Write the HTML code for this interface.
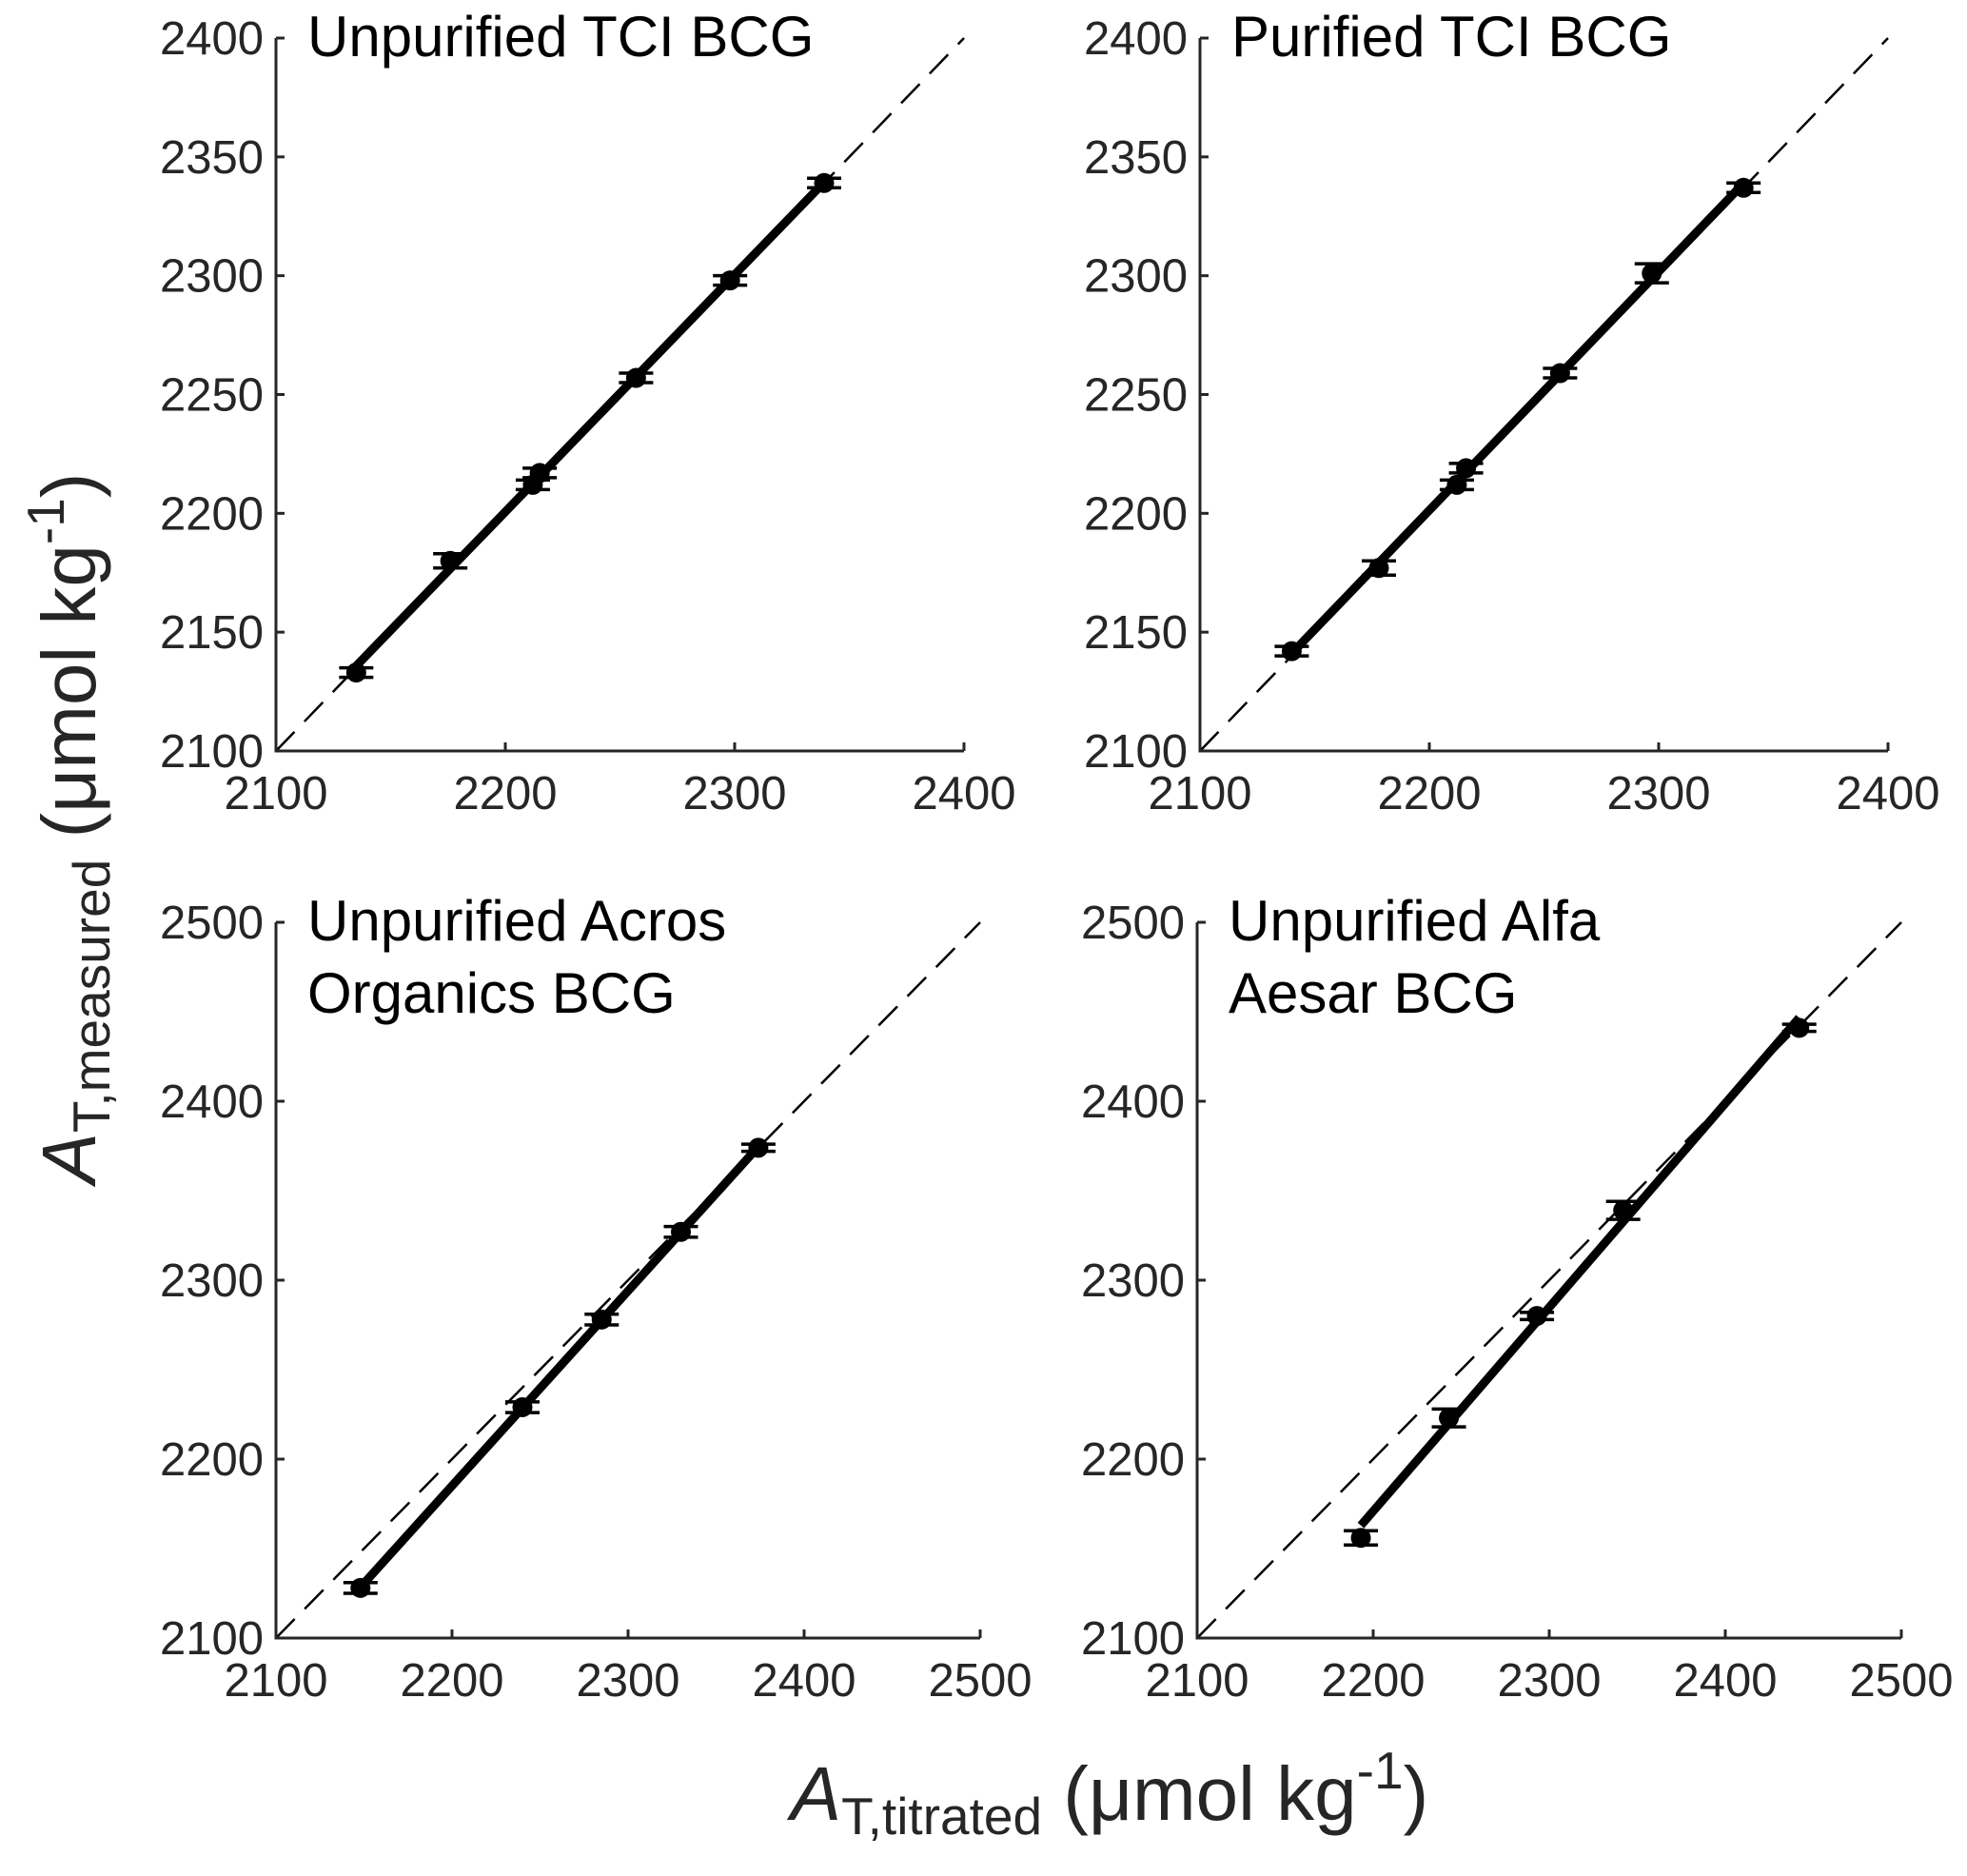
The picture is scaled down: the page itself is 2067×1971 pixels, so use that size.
<!DOCTYPE html>
<html><head><meta charset="utf-8">
<style>
html,body{margin:0;padding:0;background:#fff;}
svg{display:block;font-family:"Liberation Sans",Arial,sans-serif;}
</style></head>
<body>
<svg id="fig" width="2067" height="1971" viewBox="0 0 2067 1971" xmlns="http://www.w3.org/2000/svg">
<g transform="translate(100,870) rotate(-90)">
<text text-anchor="middle" font-size="80" fill="#262626"><tspan font-style="italic">A</tspan><tspan font-size="55" dy="15">T,measured</tspan><tspan dy="-15"> (μmol kg</tspan><tspan font-size="55" dy="-33">-1</tspan><tspan dy="33">)</tspan></text>
</g>
<g>
<text x="1166" y="1912" text-anchor="middle" font-size="80" fill="#262626"><tspan font-style="italic">A</tspan><tspan font-size="55" dy="15">T,titrated</tspan><tspan dy="-15"> (μmol kg</tspan><tspan font-size="55" dy="-33">-1</tspan><tspan dy="33">)</tspan></text>
</g>
</svg>
<script>
// Panel 1: Unpurified TCI BCG
const p1X = [2135, 2176, 2212, 2215, 2257, 2298, 2339];
const p1Y = [2133, 2180, 2212, 2217, 2257, 2298, 2339];
const p1E = [2, 3, 2, 2, 2, 2, 2];
// Panel 2: Purified TCI BCG
const p2X = [2140, 2178, 2212, 2216, 2257, 2297, 2337];
const p2Y = [2142, 2177, 2212, 2219, 2259, 2301, 2337];
const p2E = [2, 3, 2, 2, 2, 4, 2];
// Panel 3: Unpurified Acros Organics BCG
const p3X = [2148, 2240, 2285, 2330, 2374];
const p3Y = [2128, 2229, 2278, 2327, 2374];
const p3E = [3, 3, 3, 3, 2];
// Panel 4: Unpurified Alfa Aesar BCG
const p4X = [2193, 2243, 2293, 2342, 2442];
const p4Y = [2156, 2223, 2280, 2339, 2441];
const p4E = [4, 5, 2, 5, 2];
// Ticks
const ticksTop = [2100, 2200, 2300, 2400];
const ticksTopY = [2100, 2150, 2200, 2250, 2300, 2350, 2400];
const ticksBot = [2100, 2200, 2300, 2400, 2500];
const ticksBotY = [2100, 2200, 2300, 2400, 2500];

const NS = 'http://www.w3.org/2000/svg';
const svg = document.getElementById('fig');
function mk(tag, attrs, parent) {
  const e = document.createElementNS(NS, tag);
  for (const k in attrs) e.setAttribute(k, attrs[k]);
  parent.appendChild(e);
  return e;
}
const panels = [
  {name:'unpurified-tci', L:290, R:1013, T:40, B:789, min:2100, max:2400, xt:ticksTop, yt:ticksTopY, X:p1X, Y:p1Y, E:p1E, title:['Unpurified TCI BCG']},
  {name:'purified-tci', L:1261, R:1984, T:40, B:789, min:2100, max:2400, xt:ticksTop, yt:ticksTopY, X:p2X, Y:p2Y, E:p2E, title:['Purified TCI BCG']},
  {name:'unpurified-acros', L:290, R:1030, T:969, B:1721, min:2100, max:2500, xt:ticksBot, yt:ticksBotY, X:p3X, Y:p3Y, E:p3E, title:['Unpurified Acros','Organics BCG']},
  {name:'unpurified-alfa', L:1258, R:1998, T:969, B:1721, min:2100, max:2500, xt:ticksBot, yt:ticksBotY, X:p4X, Y:p4Y, E:p4E, title:['Unpurified Alfa','Aesar BCG']}
];
panels.forEach(p => {
  const g = mk('g', {}, svg);
  
  
  const sx = v => p.L + (v - p.min) / (p.max - p.min) * (p.R - p.L);
  const sy = v => p.B - (v - p.min) / (p.max - p.min) * (p.B - p.T);
  const d = mk('line', {x1:sx(p.min), y1:sy(p.min), x2:sx(p.max), y2:sy(p.max), stroke:'#000', 'stroke-width':2.5, 'stroke-dasharray':'28 15'}, g);
  
  
  const n = p.X.length;
  const mx = p.X.reduce((a,b)=>a+b,0)/n, my = p.Y.reduce((a,b)=>a+b,0)/n;
  let sxy=0, sxx=0;
  for (let i=0;i<n;i++){ sxy+=(p.X[i]-mx)*(p.Y[i]-my); sxx+=(p.X[i]-mx)**2; }
  const m = sxy/sxx, b = my - m*mx;
  const x0 = Math.min(...p.X), x1 = Math.max(...p.X);
  const f = mk('line', {x1:sx(x0), y1:sy(m*x0+b), x2:sx(x1), y2:sy(m*x1+b), stroke:'#000', 'stroke-width':9}, g);
  
  
  for (let i=0;i<n;i++){
    const cx = sx(p.X[i]), cy = sy(p.Y[i]);
    const ey1 = sy(p.Y[i]+p.E[i]), ey2 = sy(p.Y[i]-p.E[i]);
    const eb = mk('path', {d:`M${cx},${ey1}V${ey2}M${cx-18},${ey1}H${cx+18}M${cx-18},${ey2}H${cx+18}`, stroke:'#000', 'stroke-width':3.5, fill:'none'}, g);
    
    
    const c = mk('circle', {cx:cx, cy:cy, r:10.5, fill:'#000'}, g);
    
    
  }
  const ax = mk('path', {d:`M${p.L},${p.T}V${p.B}H${p.R}`, stroke:'#262626', 'stroke-width':3, fill:'none'}, g);
  
  
  p.xt.forEach(t => {
    const x = sx(t);
    mk('line', {x1:x, y1:p.B, x2:x, y2:p.B-9, stroke:'#262626', 'stroke-width':3}, g);
    const tx = mk('text', {x:x, y:p.B+61, 'text-anchor':'middle', 'font-size':49, fill:'#262626'}, g);
    
    
    tx.textContent = t;
  });
  p.yt.forEach(t => {
    const y = sy(t);
    mk('line', {x1:p.L, y1:y, x2:p.L+9, y2:y, stroke:'#262626', 'stroke-width':3}, g);
    const tx = mk('text', {x:p.L-13, y:y+17, 'text-anchor':'end', 'font-size':49, fill:'#262626'}, g);
    
    
    tx.textContent = t;
  });
  p.title.forEach((s, k) => {
    const tt = mk('text', {x:p.L+33, y:p.T+19+k*76, 'font-size':60, fill:'#000'}, g);
    
    
    tt.textContent = s;
  });
});
</script>
</body></html>
